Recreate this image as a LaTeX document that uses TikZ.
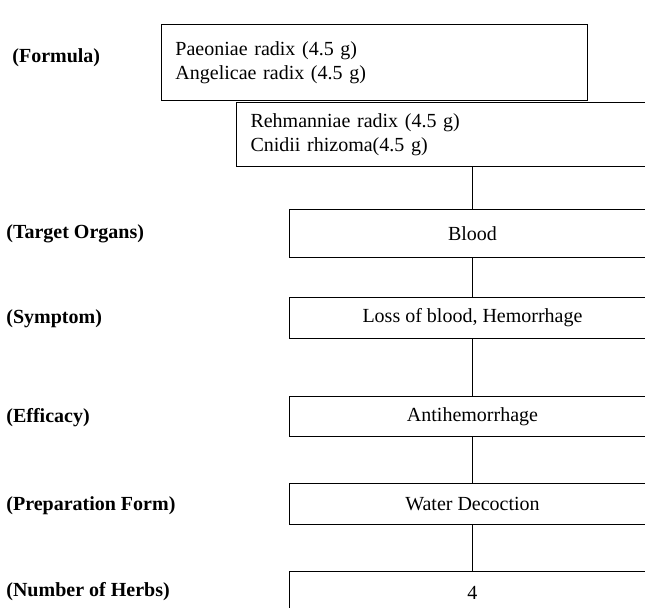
\documentclass[tikz,border=0pt]{standalone}
\usepackage{fontspec}
\setmainfont{Liberation Serif}
\tikzset{
  herbbox/.style={draw,line width=0.5pt,anchor=north west,align=left,inner xsep=7pt,inner ysep=0pt},
  levelbox/.style={draw,line width=0.5pt,anchor=north west,minimum width=183pt,inner sep=0pt},
  rowlabel/.style={anchor=west,inner sep=0pt,font=\bfseries},
  link/.style={line width=0.5pt}
}

\begin{document}
\begin{tikzpicture}[x=0.5pt,y=-0.5pt]
\path[use as bounding box] (0,0) rectangle (645,608);
\clip (0,0) rectangle (645,608);
% row labels
\node[rowlabel] (lformula) at (12,58) {(Formula)};
\node[rowlabel] (lorgan) at (6,234) {(Target Organs)};
\node[rowlabel] (lsymptom) at (6,319) {(Symptom)};
\node[rowlabel] (lefficacy) at (6,418) {(Efficacy)};
\node[rowlabel] (lform) at (6,506) {(Preparation Form)};
\node[rowlabel] (lnumber) at (6,592) {(Number of Herbs)};
% formula boxes
\node[herbbox,minimum width=213pt,minimum height=38pt,text width=199pt] (herbsA) at (161,24)
  {Paeoniae radix (4.5 g)\\Angelicae radix (4.5 g)};
\node[herbbox,minimum width=260pt,minimum height=32pt,text width=246pt] (herbsB) at (236,102)
  {Rehmanniae radix (4.5 g)\\Cnidii rhizoma(4.5 g)};
% level boxes
\node[levelbox,minimum height=24pt] (organ) at (289,209) {Blood};
\node[levelbox,minimum height=20.5pt] (symptom) at (289,297) {Loss of blood, Hemorrhage};
\node[levelbox,minimum height=20pt] (efficacy) at (289,396) {Antihemorrhage};
\node[levelbox,minimum height=20.5pt] (form) at (289,483) {Water Decoction};
\node[levelbox,minimum height=21pt] (number) at (289,571) {4};
% links
\draw[link] (herbsB.south -| organ.north) -- (organ.north);
\draw[link] (organ.south) -- (symptom.north);
\draw[link] (symptom.south) -- (efficacy.north);
\draw[link] (efficacy.south) -- (form.north);
\draw[link] (form.south) -- (number.north);
\end{tikzpicture}
\end{document}
